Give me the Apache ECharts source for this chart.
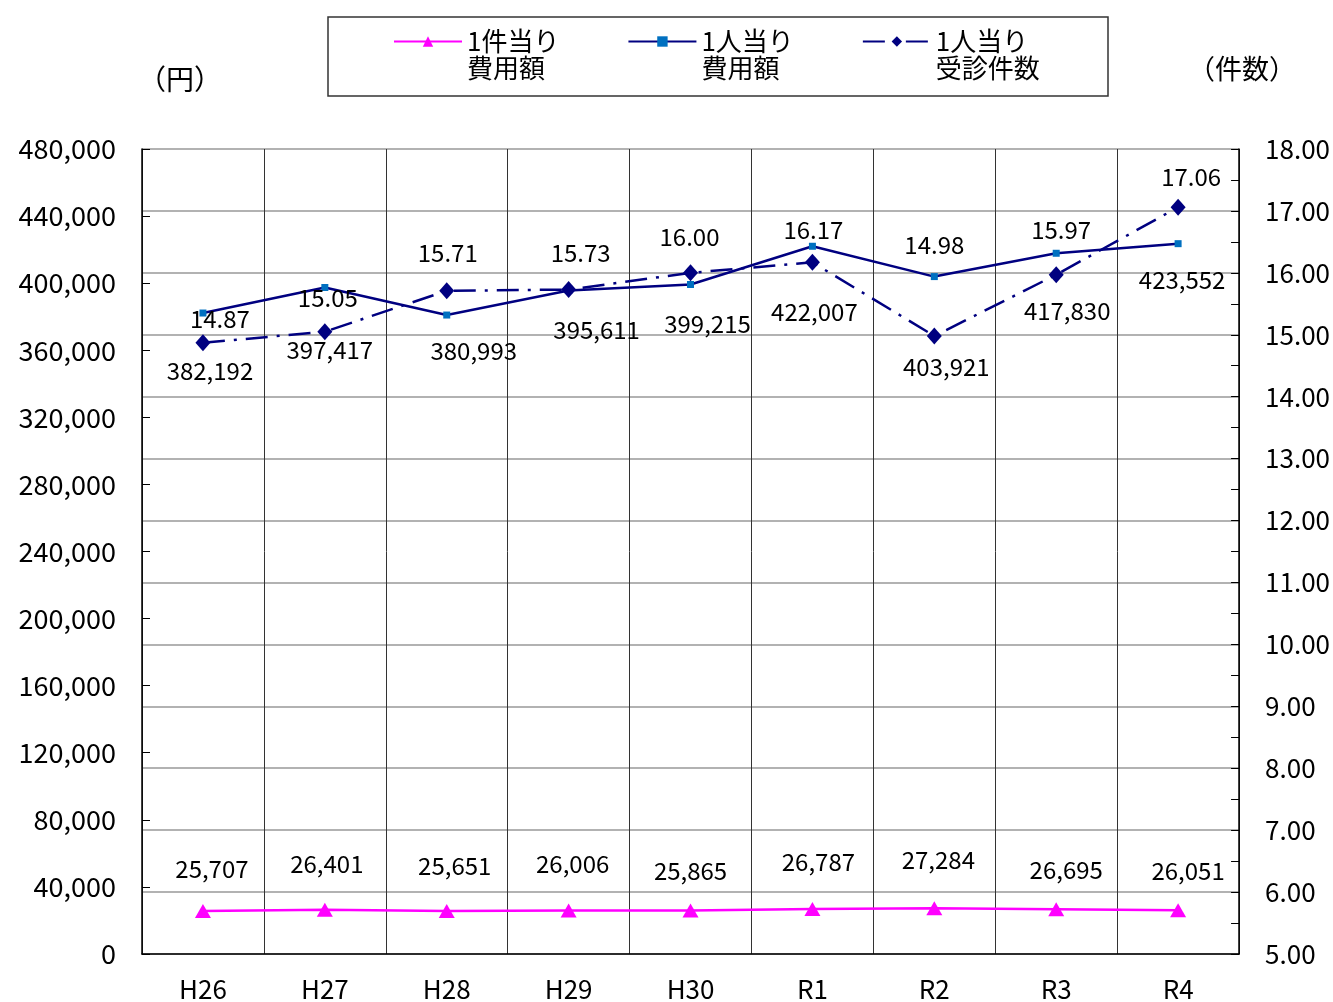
<!DOCTYPE html>
<html><head><meta charset="utf-8">
<script src="https://cdn.jsdelivr.net/npm/echarts@6/dist/echarts.min.js"></script>
<style>html,body{margin:0;padding:0;background:#fff}#c{width:1333px;height:1002px}</style>
</head><body><div id="c"></div>
<script>
const categories = ['H26','H27','H28','H29','H30','R1','R2','R3','R4'];
const costPerCase = [25707, 26401, 25651, 26006, 25865, 26787, 27284, 26695, 26051];
const costPerPerson = [382192, 397417, 380993, 395611, 399215, 422007, 403921, 417830, 423552];
const visitsPerPerson = [14.87, 15.05, 15.71, 15.73, 16.00, 16.17, 14.98, 15.97, 17.06];
const leftTicks = {min: 0, max: 480000, interval: 40000};
const rightTicks = {min: 5, max: 18, interval: 1};
const seriesNames = ['1件当り\n費用額', '1人当り\n費用額', '1人当り\n受診件数'];

// label offsets (label centre relative to point), styling only
const offCase = [[9,-42],[2,-46],[8,-45],[4,-47],[0,-40],[6,-47],[4,-48],[10,-39],[10,-39]];
const offPerson = [[7,58],[5,62],[27,36],[28,39],[17,39],[2,66],[12,90],[11,58],[4,36]];
const offVisits = [[17,-24],[3,-34],[1,-38],[12,-37],[-1,-36],[1,-32],[0,-91],[5,-45],[13,-30]];

const FONT = "'Noto Sans CJK JP', 'Noto Sans', sans-serif";
const fmtComma = v => Number(v).toLocaleString('en-US');

function withLabels(vals, offs, fmt) {
  return vals.map((v, i) => ({value: v, label: {offset: offs[i], formatter: () => fmt(v)}}));
}
const lblBase = {show: true, position: 'inside', color: '#000', fontFamily: FONT, fontSize: 24};

const chart = echarts.init(document.getElementById('c'));
chart.setOption({
  animation: false,
  backgroundColor: '#fff',
  textStyle: {fontFamily: FONT},
  grid: {left: 142, right: 93, top: 149, bottom: 47, containLabel: false},
  legend: {
    left: 393, top: 1, padding: 0,
    itemWidth: 68, itemHeight: 13, itemGap: 68,
    data: seriesNames,
    formatter: name => '\n' + name,
    textStyle: {fontFamily: FONT, fontSize: 26, color: '#000', lineHeight: 27}
  },
  graphic: [
    {type: 'rect', shape: {x: 328, y: 17, width: 780, height: 79}, style: {fill: 'none', stroke: '#333', lineWidth: 1.5}, z: -1},
    {type: 'text', left: 138, top: 65, style: {text: '（円）', font: '28px ' + FONT, fill: '#000'}},
    {type: 'text', left: 1188, top: 55, style: {text: '（件数）', font: '27px ' + FONT, fill: '#000'}}
  ],
  xAxis: {
    type: 'category', data: categories, boundaryGap: true,
    axisLine: {lineStyle: {color: '#000', width: 1.5}},
    axisTick: {show: false},
    splitLine: {show: true, lineStyle: {color: '#333', width: 1}},
    axisLabel: {color: '#000', fontSize: 26, fontFamily: FONT, margin: 22}
  },
  yAxis: [
    {
      type: 'value', min: leftTicks.min, max: leftTicks.max, interval: leftTicks.interval,
      axisLine: {show: true, lineStyle: {color: '#000', width: 1.5}},
      axisTick: {show: true, inside: true, length: 8, lineStyle: {color: '#000'}},
      splitLine: {show: false},
      axisLabel: {color: '#000', fontSize: 27, fontFamily: FONT, margin: 26, formatter: fmtComma}
    },
    {
      type: 'value', position: 'right', min: rightTicks.min, max: rightTicks.max, interval: rightTicks.interval,
      axisLine: {show: true, lineStyle: {color: '#000', width: 1.5}},
      axisTick: {show: true, inside: true, length: 8, lineStyle: {color: '#000'}},
      minorTick: {show: true, splitNumber: 2, length: 8, lineStyle: {color: '#000'}},
      splitLine: {show: true, lineStyle: {color: '#999', width: 1.5}},
      axisLabel: {color: '#000', fontSize: 26, fontFamily: FONT, margin: 26, formatter: v => v.toFixed(2)}
    }
  ],
  series: [
    {
      name: seriesNames[0], type: 'line', yAxisIndex: 0,
      data: withLabels(costPerCase, offCase, fmtComma),
      symbol: 'triangle', symbolSize: [16, 14], showAllSymbol: true,
      lineStyle: {color: '#FF00FF', width: 2.5}, itemStyle: {color: '#FF00FF'},
      label: lblBase, z: 3
    },
    {
      name: seriesNames[1], type: 'line', yAxisIndex: 0,
      data: withLabels(costPerPerson, offPerson, fmtComma),
      symbol: 'rect', symbolSize: 7, showAllSymbol: true,
      lineStyle: {color: '#000080', width: 2.5}, itemStyle: {color: '#0070C0'},
      label: lblBase, z: 3
    },
    {
      name: seriesNames[2], type: 'line', yAxisIndex: 1,
      data: withLabels(visitsPerPerson, offVisits, v => v.toFixed(2)),
      symbol: 'diamond', symbolSize: [15, 17], showAllSymbol: true,
      lineStyle: {color: '#000080', width: 2.5, type: [22, 9, 3, 9]}, itemStyle: {color: '#000080'},
      label: lblBase, z: 4
    }
  ]
});
</script>
</body></html>
